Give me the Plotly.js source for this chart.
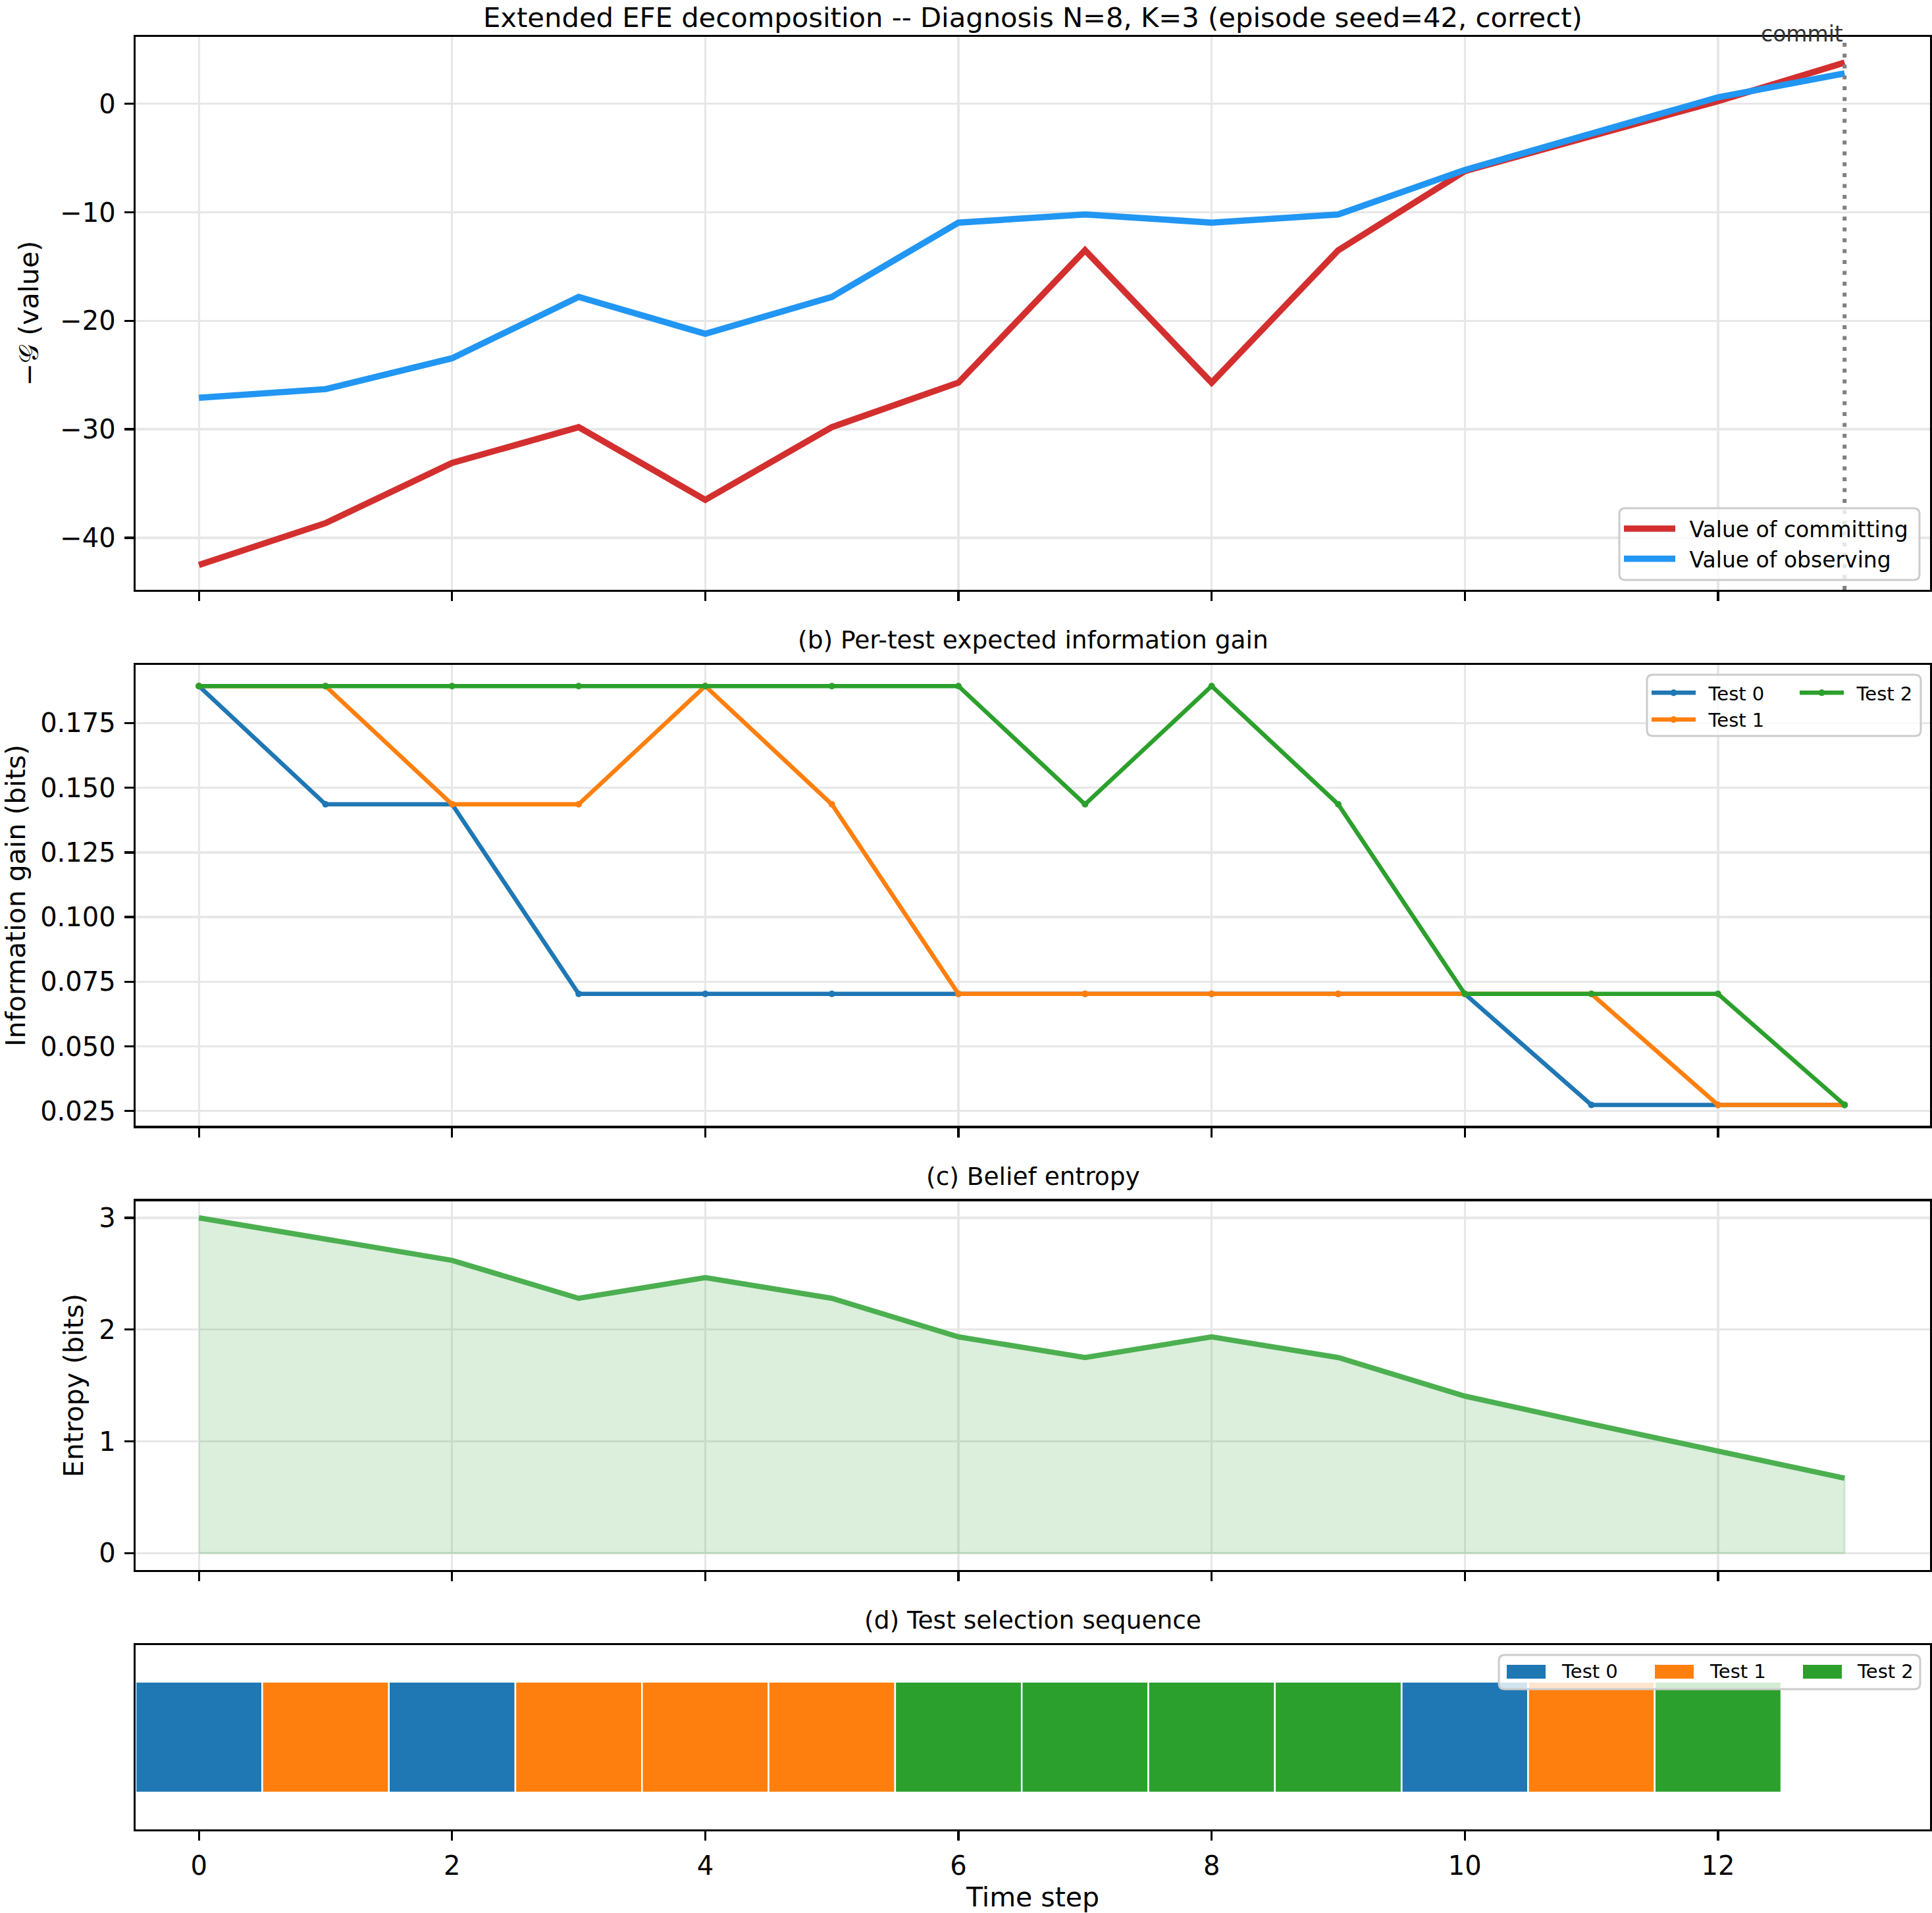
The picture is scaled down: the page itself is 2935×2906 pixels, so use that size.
<!DOCTYPE html>
<html>
<head>
<meta charset="utf-8">
<script src="https://cdn.plot.ly/plotly-3.0.1.min.js"></script>
<style>html,body{margin:0;padding:0;background:#fff;}</style>
</head>
<body>
<div id="chart" style="width:2935px;height:2906px;"></div>
<script>
// ---- episode data ----
const steps = [0, 1, 2, 3, 4, 5, 6, 7, 8, 9, 10, 11, 12, 13];
const valueCommit  = [-42.5, -38.65, -33.1, -29.8, -36.5, -29.8, -25.7, -13.5, -25.7, -13.5, -6.2, -3.0, 0.25, 3.8];
const valueObserve = [-27.1, -26.3, -23.45, -17.8, -21.2, -17.8, -10.95, -10.2, -10.95, -10.2, -6.1, -2.8, 0.6, 2.8];
const infoGainTest0 = [0.1893, 0.1436, 0.1436, 0.0703, 0.0703, 0.0703, 0.0703, 0.0703, 0.0703, 0.0703, 0.0703, 0.0274, 0.0274, 0.0274];
const infoGainTest1 = [0.1893, 0.1893, 0.1436, 0.1436, 0.1893, 0.1436, 0.0703, 0.0703, 0.0703, 0.0703, 0.0703, 0.0703, 0.0274, 0.0274];
const infoGainTest2 = [0.1893, 0.1893, 0.1893, 0.1893, 0.1893, 0.1893, 0.1893, 0.1436, 0.1893, 0.1436, 0.0703, 0.0703, 0.0703, 0.0274];
const beliefEntropy = [3.0, 2.81, 2.62, 2.28, 2.465, 2.28, 1.935, 1.75, 1.935, 1.75, 1.405, 1.155, 0.91, 0.67];
const selectedTest = [0, 1, 0, 1, 1, 1, 2, 2, 2, 2, 0, 1, 2];
const testNames = ['Test 0', 'Test 1', 'Test 2'];
const commitStep = 13;

const testColors = ['#1f77b4', '#ff7f0e', '#2ca02c'];
const FONT = 'DejaVu Sans, Verdana, sans-serif';
const GAP = '\u2002'; // spacing between legend swatch and label

// ---- figure geometry (pixels) ----
const W = 2935, H = 2906;
const M = {l: 206, r: 3, t: 56, b: 127};
const plotW = W - M.l - M.r, plotH = H - M.t - M.b;
const px2x = px => (px - M.l) / plotW;
const px2y = py => (H - M.b - py) / plotH;

const dom = {
  y1: [0.6915, 1.0],
  y2: [0.3925, 0.6495],
  y3: [0.1448, 0.3505],
  y4: [0.0, 0.1029]
};
const xRange = [-0.5, 13.675];

// ---- traces ----
const traces = [];
traces.push({x: steps, y: valueCommit, type: 'scatter', mode: 'lines', name: GAP + 'Value of committing',
  line: {color: '#d32f2f', width: 9.5}, xaxis: 'x', yaxis: 'y', legend: 'legend'});
traces.push({x: steps, y: valueObserve, type: 'scatter', mode: 'lines', name: GAP + 'Value of observing',
  line: {color: '#2196f3', width: 9.5}, xaxis: 'x', yaxis: 'y', legend: 'legend'});

const igSeries = [infoGainTest0, infoGainTest1, infoGainTest2];
igSeries.forEach((ys, k) => {
  traces.push({x: steps, y: ys, type: 'scatter', mode: 'lines+markers', name: GAP + testNames[k],
    line: {color: testColors[k], width: 6.5}, marker: {color: testColors[k], size: 10},
    xaxis: 'x2', yaxis: 'y2', legend: k < 2 ? 'legend2' : 'legend3'});
});

// shaded area under the entropy curve
traces.push({x: steps.concat(steps.slice().reverse()),
  y: beliefEntropy.concat(steps.map(() => 0)),
  type: 'scatter', mode: 'lines', fill: 'toself', fillcolor: 'rgba(76,175,80,0.2)',
  line: {color: 'rgba(76,175,80,0.2)', width: 3}, showlegend: false, hoverinfo: 'skip',
  xaxis: 'x3', yaxis: 'y3'});
traces.push({x: steps, y: beliefEntropy, type: 'scatter', mode: 'lines',
  line: {color: '#4caf50', width: 8}, showlegend: false, xaxis: 'x3', yaxis: 'y3'});

// one bar per time step, coloured by the test chosen at that step
const barHeight = 0.6;
testNames.forEach((name, k) => {
  const xs = [];
  selectedTest.forEach((t, i) => { if (t === k) xs.push(steps[i]); });
  traces.push({x: xs, y: xs.map(() => barHeight), base: -barHeight / 2, width: 1,
    type: 'bar', name: name, showlegend: false,
    marker: {color: testColors[k], line: {color: '#ffffff', width: 2.5}},
    xaxis: 'x4', yaxis: 'y4'});
});

// ---- axes ----
function xAxis(extra) {
  return Object.assign({
    range: xRange, tick0: 0, dtick: 2, ticks: 'outside', ticklen: 14, tickwidth: 3.3, tickcolor: '#000',
    showline: true, linecolor: '#000', linewidth: 3.3, mirror: true,
    showgrid: true, gridcolor: '#e7e7e7', gridwidth: 3.3, zeroline: false,
    showticklabels: false, tickfont: {family: FONT, size: 40, color: '#000'}, ticklabelstandoff: 4
  }, extra);
}
function yAxis(extra) {
  return Object.assign({
    ticks: 'outside', ticklen: 14, tickwidth: 3.3, tickcolor: '#000',
    showline: true, linecolor: '#000', linewidth: 3.3, mirror: true,
    showgrid: true, gridcolor: '#e7e7e7', gridwidth: 3.3, zeroline: false,
    tickfont: {family: FONT, size: 40, color: '#000'}, ticklabelstandoff: 5
  }, extra);
}

// rounded legend frame in paper coordinates
function frame(x0, y0, x1, y1) {
  const r = 9;
  const X0 = px2x(x0), X1 = px2x(x1), Y0 = px2y(y0), Y1 = px2y(y1);
  const rx = r / plotW, ry = r / plotH;
  const p = `M${X0 + rx},${Y0} L${X1 - rx},${Y0} Q${X1},${Y0} ${X1},${Y0 - ry} ` +
            `L${X1},${Y1 + ry} Q${X1},${Y1} ${X1 - rx},${Y1} L${X0 + rx},${Y1} ` +
            `Q${X0},${Y1} ${X0},${Y1 + ry} L${X0},${Y0 - ry} Q${X0},${Y0} ${X0 + rx},${Y0} Z`;
  return {type: 'path', path: p, xref: 'paper', yref: 'paper', layer: 'above',
    fillcolor: 'rgba(255,255,255,0.8)', line: {color: '#cccccc', width: 3}};
}

const shapes = [
  {type: 'line', xref: 'x', yref: 'y domain', x0: commitStep, x1: commitStep, y0: 0, y1: 1,
   line: {color: '#808080', width: 6, dash: '6px,10.5px'}, layer: 'above'},
  frame(2460, 772, 2916, 881),
  frame(2502, 1025, 2918, 1118),
  frame(2277, 2514, 2917, 2566)
];

// legend for the selection strip
const stripSwatchX = [2289, 2514, 2739];
const stripLabelX = [2371, 2596, 2820];
testNames.forEach((name, k) => {
  shapes.push({type: 'rect', xref: 'paper', yref: 'paper', layer: 'above',
    x0: px2x(stripSwatchX[k]), x1: px2x(stripSwatchX[k] + 59),
    y0: px2y(2550), y1: px2y(2529), fillcolor: testColors[k], line: {width: 0}});
});

const annotations = [];
function panelTitle(text, top, size, shift) {
  annotations.push({text: text, xref: 'paper', yref: 'paper', x: 0.5, y: top,
    xanchor: 'center', yanchor: 'bottom', yshift: shift, showarrow: false, borderpad: 0,
    font: {family: FONT, size: size, color: '#000'}});
}
panelTitle('Extended EFE decomposition -- Diagnosis N=8, K=3 (episode seed=42, correct)', dom.y1[1], 41.7, 4);
panelTitle('(b) Per-test expected information gain', dom.y2[1], 37.5, 15);
panelTitle('(c) Belief entropy', dom.y3[1], 37.5, 15);
panelTitle('(d) Test selection sequence', dom.y4[1], 37.5, 15);

annotations.push({text: 'commit', xref: 'x', yref: 'y domain', x: commitStep, y: 1,
  xanchor: 'right', yanchor: 'bottom', yshift: -17, showarrow: false,
  font: {family: FONT, size: 33, color: '#333333'}});

testNames.forEach((name, k) => {
  annotations.push({text: name, xref: 'paper', yref: 'paper', x: px2x(stripLabelX[k]), y: px2y(2539),
    xanchor: 'left', yanchor: 'middle', showarrow: false, borderpad: 0,
    font: {family: FONT, size: 29, color: '#000'}});
});

const legendBase = {bgcolor: 'rgba(0,0,0,0)', borderwidth: 0, xanchor: 'left', yanchor: 'top',
  tracegroupgap: 0, orientation: 'v'};

const layout = {
  width: W, height: H, margin: M, paper_bgcolor: '#fff', plot_bgcolor: '#fff',
  font: {family: FONT, color: '#000'},
  barmode: 'overlay', bargap: 0,
  xaxis:  xAxis({anchor: 'y'}),
  xaxis2: xAxis({anchor: 'y2'}),
  xaxis3: xAxis({anchor: 'y3'}),
  xaxis4: xAxis({anchor: 'y4', showgrid: false, showticklabels: true,
    title: {text: 'Time step', standoff: 13, font: {family: FONT, size: 41, color: '#000'}}}),
  yaxis:  yAxis({domain: dom.y1, anchor: 'x', range: [-44.8, 6.17], dtick: 10, tick0: 0,
    title: {text: '\u2212\uD835\uDCA2 (value)', standoff: 21, font: {family: FONT, size: 41, color: '#000'}}}),
  yaxis2: yAxis({domain: dom.y2, anchor: 'x2', range: [0.0193, 0.1974], tick0: 0.025, dtick: 0.025, tickformat: '.3f',
    title: {text: 'Information gain (bits)', standoff: 25, font: {family: FONT, size: 41, color: '#000'}}}),
  yaxis3: yAxis({domain: dom.y3, anchor: 'x3', range: [-0.15, 3.15], tick0: 0, dtick: 1,
    title: {text: 'Entropy (bits)', standoff: 12, font: {family: FONT, size: 41, color: '#000'}}}),
  yaxis4: yAxis({domain: dom.y4, anchor: 'x4', range: [-0.5, 0.5], ticks: '', showticklabels: false, showgrid: false}),
  legend:  Object.assign({}, legendBase, {x: px2x(2462), y: px2y(775), itemwidth: 78,
    font: {family: FONT, size: 33, color: '#000'}}),
  legend2: Object.assign({}, legendBase, {x: px2x(2504), y: px2y(1027), itemwidth: 67,
    font: {family: FONT, size: 29, color: '#000'}}),
  legend3: Object.assign({}, legendBase, {x: px2x(2729), y: px2y(1027), itemwidth: 67,
    font: {family: FONT, size: 29, color: '#000'}}),
  shapes: shapes,
  annotations: annotations,
  showlegend: true
};

Plotly.newPlot('chart', traces, layout, {staticPlot: true, displayModeBar: false});
</script>
</body>
</html>
